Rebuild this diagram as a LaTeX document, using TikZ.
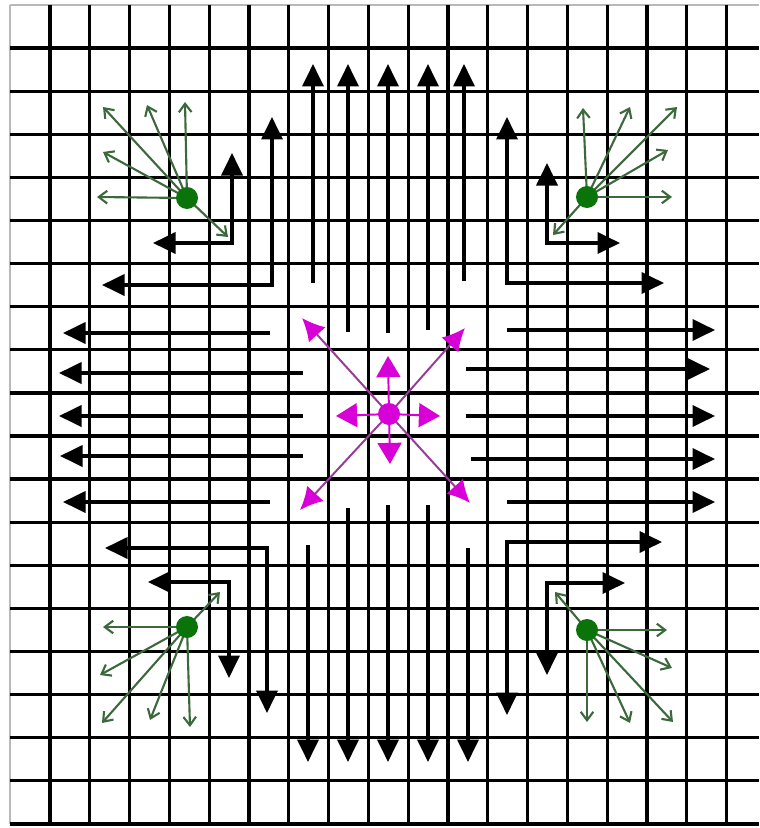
\documentclass[tikz,border=0pt]{standalone}
\usepackage{tikz}
\usetikzlibrary{arrows.meta}

\definecolor{relgreen}{RGB}{60,105,60}
\definecolor{dotgreen}{RGB}{10,115,10}
\definecolor{srcmag}{RGB}{215,0,215}
\definecolor{diagpurple}{RGB}{150,60,150}

\begin{document}
\begin{tikzpicture}[x=0.025cm, y=-0.025cm,
    gridline/.style={line width=2.4pt},
    flow/.style={line width=2.3pt, -{Triangle[length=16pt,width=15pt]}},
    flowL/.style={line width=2.3pt, {Triangle[length=16pt,width=15pt]}-{Triangle[length=16pt,width=15pt]}},
    rel/.style={relgreen, line width=1.5pt, -{Straight Barb[length=6pt,width=9pt]}},
    burst/.style={srcmag, line width=1.4pt, -{Triangle[length=15pt,width=17pt]}},
    diag/.style={diagpurple, line width=1.4pt, -{Latex[length=16pt,width=16pt,color=srcmag]}}]
    \useasboundingbox (0,0) rectangle (759,828);

    % 网格 (外框为浅灰)
    \draw[gray!55, line width=1.5pt] (10.2,5) -- (759,5);
    \draw[gray!55, line width=1.5pt] (10.2,5) -- (10.2,824);
    \foreach \i in {1,...,18}
        \draw[gridline] ({10.2+39.8*\i},5) -- ({10.2+39.8*\i},824);
    \foreach \j in {1,...,19}
        \draw[gridline] (10.2,{5+43.1*\j}) -- (759,{5+43.1*\j});

    % 向上的箭头
    \foreach \sx/\sy in {313/283, 348/332, 388/333, 428/330, 464/281}
        \draw[flow] (\sx,\sy) -- (\sx,64);
    % 向下的箭头
    \foreach \sx/\sy in {308/545, 348/508, 388/505, 428/505, 468/548}
        \draw[flow] (\sx,\sy) -- (\sx,762);
    % 向左的箭头
    \foreach \sx/\sy/\tx in {270/333/63, 303/373/59, 303/416/59, 303/456/60, 270/502/63}
        \draw[flow] (\sx,\sy) -- (\tx,\sy);
    % 向右的箭头
    \foreach \sx/\sy/\tx in {507/330/715, 466/369/710, 466/416/715, 471/459/715, 507/502/715}
        \draw[flow] (\sx,\sy) -- (\tx,\sy);

    % 拐角处的 L 形箭头
    \draw[flowL] (102,285) -- (272,285) -- (272,117);
    \draw[flowL] (153,243) -- (232,243) -- (232,153);
    \draw[flowL] (664,283) -- (507,283) -- (507,117);
    \draw[flowL] (620,243) -- (547,243) -- (547,163);
    \draw[flowL] (105,548) -- (267,548) -- (267,713);
    \draw[flowL] (148,582) -- (229,582) -- (229,678);
    \draw[flowL] (662,542) -- (507,542) -- (507,715);
    \draw[flowL] (625,583) -- (547,583) -- (547,675);

    % 中心的源点
    \coordinate (src) at (389,414);
    \foreach \tx/\ty in {302/318, 465/328, 300/510, 470/503}
        \draw[diag] (src) -- (\tx,\ty);
    \foreach \tx/\ty in {388/356, 336/416, 440/416, 390/464}
        \draw[burst] (src) -- (\tx,\ty);
    \fill[srcmag] (src) circle (11);

    % 四个绿色观察点及其相对运动
    \coordinate (gA) at (187,198);
    \coordinate (gB) at (587,197);
    \coordinate (gC) at (187,627);
    \coordinate (gD) at (587,630);
    \foreach \tx/\ty in {103/107, 147/105, 185/102, 103/152, 97/197, 228/237}
        \draw[rel] (gA) -- (\tx,\ty);
    \foreach \tx/\ty in {583/108, 630/107, 677/107, 668/150, 672/197, 553/235}
        \draw[rel] (gB) -- (\tx,\ty);
    \foreach \tx/\ty in {220/592, 103/627, 100/675, 102/723, 150/720, 190/727}
        \draw[rel] (gC) -- (\tx,\ty);
    \foreach \tx/\ty in {555/592, 667/630, 672/668, 673/722, 630/723, 587/722}
        \draw[rel] (gD) -- (\tx,\ty);
    \foreach \g in {gA, gB, gC, gD}
        \fill[dotgreen] (\g) circle (11);
\end{tikzpicture}
\end{document}
